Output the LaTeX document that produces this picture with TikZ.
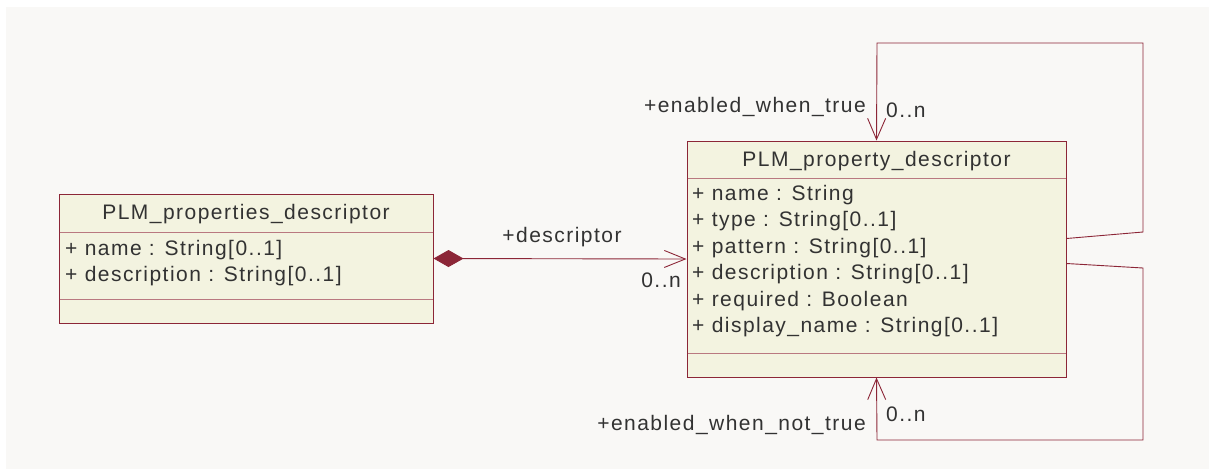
\documentclass[tikz,border=0pt]{standalone}
\usepackage{fontspec}
\setmainfont{Liberation Sans}[LetterSpace=7]
\usetikzlibrary{arrows.meta,calc}
\definecolor{bg}{RGB}{249,248,246}
\definecolor{umlred}{RGB}{140,38,55}
\definecolor{boxfill}{RGB}{243,243,224}
\definecolor{divline}{RGB}{185,120,128}
\definecolor{txt}{RGB}{50,50,50}
\begin{document}
\begin{tikzpicture}[x=1pt,y=-1pt,
  every node/.style={font=\fontsize{21}{25}\selectfont, text=txt, inner sep=0pt},
  classbox/.style={draw=umlred, fill=boxfill, line width=1pt},
  divider/.style={draw=divline, line width=1pt},
  attr/.style={anchor=west},
  conn/.style={draw=umlred, line width=0.9pt},
  openhead/.style={-{Straight Barb[length=21pt,width=18pt,line width=0.9pt]}}
]
\useasboundingbox (0,0) rectangle (1209,469);
\fill[bg] (6,7) rectangle (1209,469);

% left class
\node[classbox, minimum width=374pt, minimum height=129pt] (L) at (246,258.5) {};
\draw[divider] (59.5,232) -- (432.5,232);
\draw[divider] (59.5,299) -- (432.5,299);
\node (Lt) at (246,214) {PLM\_properties\_descriptor};
\node[attr] (La1) at (65,250) {+ name : String[0..1]};
\node[attr] (La2) at (65,276) {+ description : String[0..1]};

% right class
\node[classbox, minimum width=379pt, minimum height=236pt] (R) at (876.5,259) {};
\draw[divider] (687.5,178) -- (1065.5,178);
\draw[divider] (687.5,353) -- (1065.5,353);
\node (Rt) at (876.5,161) {PLM\_property\_descriptor};
\node[attr] (Ra1) at (692,195) {+ name : String};
\node[attr] (Ra2) at (692,221.5) {+ type : String[0..1]};
\node[attr] (Ra3) at (692,248) {+ pattern : String[0..1]};
\node[attr] (Ra4) at (692,274.5) {+ description : String[0..1]};
\node[attr] (Ra5) at (692,301) {+ required : Boolean};
\node[attr] (Ra6) at (692,327.5) {+ display\_name : String[0..1]};

% composition
\draw[conn, {Diamond[length=30pt,width=17pt,fill=umlred,line width=0.9pt]}-{Straight Barb[length=21pt,width=17pt,line width=0.9pt]}] (L.east) -- (R.west);
\node (d1) at (562,237) {+descriptor};
\node[anchor=east] (d2) at (681,280) {0..n};

% self loop top
\coordinate (ts) at ($(R.north east)+(0,98)$);
\coordinate (t1) at (1143,232);
\coordinate (t2) at (1143,43);
\coordinate (t3) at (877,43);
\coordinate (te) at ($(R.north west)+(190,0)$);
\draw[conn, openhead] (ts) -- (t1) -- (t2) -- (t3) -- (te);
\node[anchor=east] (l1) at (866,107) {+enabled\_when\_true};
\node[anchor=west] (m1) at (886,110) {0..n};

% self loop bottom
\coordinate (bs) at ($(R.north east)+(0,123)$);
\coordinate (b1) at (1143,268);
\coordinate (b2) at (1143,440);
\coordinate (b3) at (877,440);
\coordinate (be) at ($(R.south west)+(190,0)$);
\draw[conn, openhead] (bs) -- (b1) -- (b2) -- (b3) -- (be);
\node[anchor=east] (l2) at (866,425) {+enabled\_when\_not\_true};
\node[anchor=west] (m2) at (886,414) {0..n};
\end{tikzpicture}
\end{document}
